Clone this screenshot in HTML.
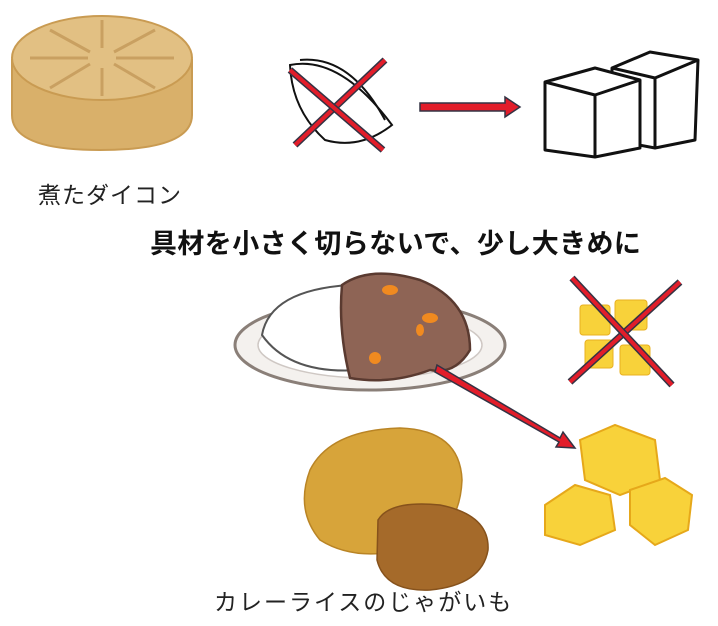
<!DOCTYPE html>
<html><head><meta charset="utf-8"><style>
body{margin:0;background:#fff;width:718px;height:626px;overflow:hidden;position:relative;font-family:"Liberation Sans","Noto Sans CJK JP",sans-serif}
.t{position:absolute;white-space:nowrap;color:#222}
</style></head><body>
<svg width="718" height="626" style="position:absolute;left:0;top:0">
<path d="M12 60 L12 115 Q12 150 100 150 Q192 150 192 115 L192 60 Z" fill="#d9b06a" stroke="#c99b52" stroke-width="2"/>
<ellipse cx="102" cy="58" rx="90" ry="42" fill="#e2c083" stroke="#c99b52" stroke-width="2"/>
<g stroke="#c9a061" stroke-width="3">
<line x1="102" y1="20" x2="102" y2="48"/><line x1="102" y1="68" x2="102" y2="96"/>
<line x1="30" y1="58" x2="88" y2="58"/><line x1="116" y1="58" x2="174" y2="58"/>
<line x1="50" y1="30" x2="90" y2="52"/><line x1="114" y1="64" x2="155" y2="88"/>
<line x1="155" y1="30" x2="114" y2="52"/><line x1="90" y1="64" x2="50" y2="88"/>
</g>
<path d="M290 65 Q340 55 392 125 Q360 150 325 140 Q292 110 290 65 Z" fill="#fff" stroke="#111" stroke-width="2"/>
<path d="M300 60 Q350 55 385 120" fill="none" stroke="#111" stroke-width="2"/>
<line x1="295" y1="145" x2="385" y2="60" stroke="#334" stroke-width="7"/>
<line x1="295" y1="145" x2="385" y2="60" stroke="#e21d2a" stroke-width="4"/>
<line x1="290" y1="70" x2="383" y2="150" stroke="#334" stroke-width="7"/>
<line x1="290" y1="70" x2="383" y2="150" stroke="#e21d2a" stroke-width="4"/>
<path d="M420 103 L505 103 L505 97 L520 107 L505 117 L505 111 L420 111 Z" fill="#e21d2a" stroke="#334" stroke-width="1.5"/>
<g fill="#fff" stroke="#111" stroke-width="3" stroke-linejoin="round">
<path d="M612 68 L650 52 L698 60 L695 140 L655 148 L612 140 Z"/>
<path d="M612 68 L655 78 L698 60 M655 78 L655 148"/>
<path d="M545 82 L595 68 L640 80 L640 148 L595 157 L545 150 Z"/>
<path d="M545 82 L595 95 L640 80 M595 95 L595 157"/>
</g>
<ellipse cx="370" cy="345" rx="135" ry="45" fill="#f4f1ee" stroke="#8a7f78" stroke-width="3"/>
<ellipse cx="370" cy="345" rx="112" ry="33" fill="#fff" stroke="#cfc8c4" stroke-width="1.5"/>
<path d="M262 335 Q270 290 350 285 L360 370 Q290 375 262 335 Z" fill="#fff" stroke="#555" stroke-width="2"/>
<path d="M342 285 Q370 265 420 280 Q470 300 470 350 Q455 375 430 370 Q390 385 350 378 Q338 330 342 285 Z" fill="#8e6455" stroke="#5a3a30" stroke-width="2.5"/>
<g fill="#f08a20"><ellipse cx="390" cy="290" rx="8" ry="5"/><ellipse cx="430" cy="318" rx="8" ry="5"/><ellipse cx="375" cy="358" rx="6" ry="6"/><ellipse cx="420" cy="330" rx="4" ry="6"/></g>
<g fill="#f8d23a" stroke="#e8b020" stroke-width="1">
<rect x="580" y="305" width="30" height="30" rx="3"/><rect x="615" y="300" width="32" height="30" rx="3"/>
<rect x="585" y="340" width="28" height="28" rx="3"/><rect x="620" y="345" width="30" height="30" rx="3"/>
</g>
<line x1="570" y1="382" x2="680" y2="282" stroke="#334" stroke-width="7"/>
<line x1="570" y1="382" x2="680" y2="282" stroke="#e21d2a" stroke-width="4"/>
<line x1="572" y1="278" x2="672" y2="385" stroke="#334" stroke-width="7"/>
<line x1="572" y1="278" x2="672" y2="385" stroke="#e21d2a" stroke-width="4"/>
<g fill="#f8d23a" stroke="#e6a81a" stroke-width="2">
<path d="M580 440 L615 425 L655 440 L660 480 L620 495 L585 480 Z"/>
<path d="M545 505 L575 485 L610 495 L615 530 L580 545 L545 535 Z"/>
<path d="M630 490 L665 478 L692 495 L688 530 L655 545 L630 525 Z"/>
</g>
<path d="M437 365 L560 438 L563 432 L575 448 L556 447 L559 442 L435 372 Z" fill="#e21d2a" stroke="#334" stroke-width="1.5"/>
<path d="M310 470 Q330 430 400 428 Q460 430 462 480 Q460 530 420 545 Q360 565 320 540 Q295 510 310 470 Z" fill="#d7a43a" stroke="#b98425" stroke-width="1.5"/>
<path d="M378 520 Q390 500 440 505 Q490 515 488 550 Q482 585 430 590 Q385 592 377 560 Z" fill="#a56a2a" stroke="#86521c" stroke-width="1.5"/>
</svg>
<div class="t" style="left:38px;top:176px;font-size:23px;letter-spacing:1px">煮たダイコン</div>
<div class="t" style="left:150px;top:222px;font-size:27px;font-weight:bold;color:#111;letter-spacing:0.4px">具材を小さく切らないで、少し大きめに</div>
<div class="t" style="left:214px;top:583px;font-size:23px;letter-spacing:2px">カレーライスのじゃがいも</div>
</body></html>
